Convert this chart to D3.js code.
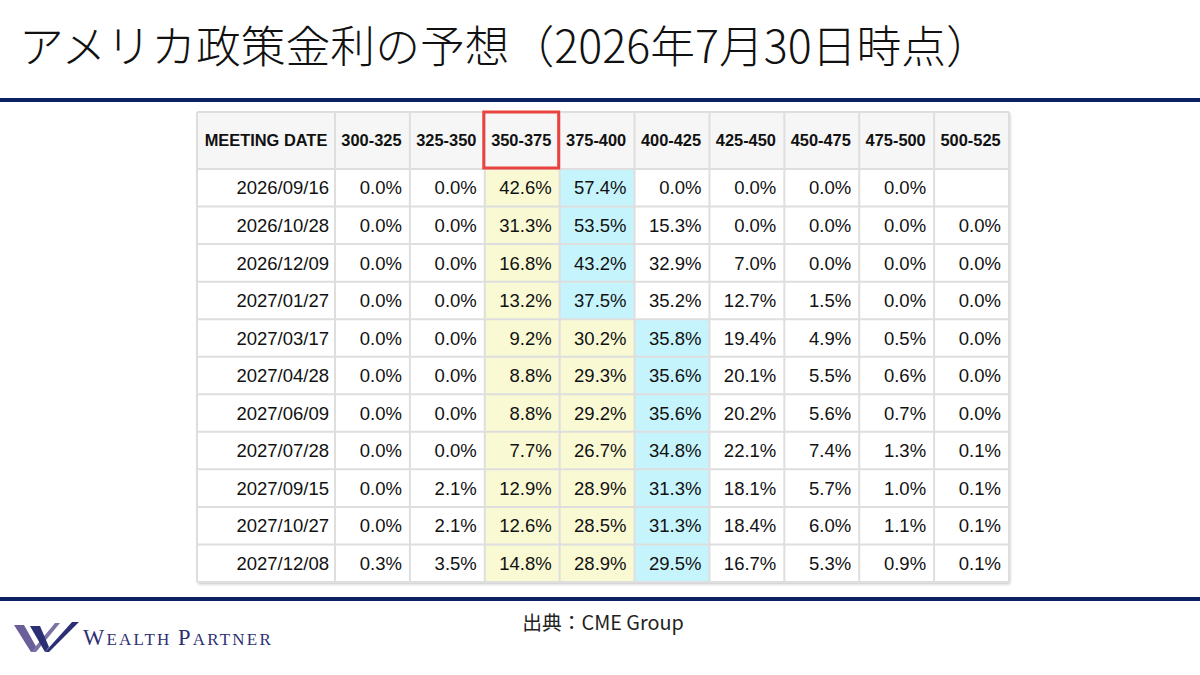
<!DOCTYPE html>
<html>
<head>
<meta charset="utf-8">
<script src="https://cdn.jsdelivr.net/npm/d3@7"></script>
<style>
	html, body { margin: 0; padding: 0; background: #fff; }
	svg { display: block; }
</style>
</head>
<body>
<svg id="chart" width="1200" height="675"></svg>
<script>
const title = "アメリカ政策金利の予想（2026年7月30日時点）";
const source = "出典：CME Group";
const firstHeader = "MEETING DATE";

const meetingDates = ["2026/09/16", "2026/10/28", "2026/12/09", "2027/01/27", "2027/03/17",
	"2027/04/28", "2027/06/09", "2027/07/28", "2027/09/15", "2027/10/27", "2027/12/08"];

const rateRanges = ["300-325", "325-350", "350-375", "375-400", "400-425",
	"425-450", "450-475", "475-500", "500-525"];

// probability (%) per target range, one value per meeting date
const p300_325 = [0.0, 0.0, 0.0, 0.0, 0.0, 0.0, 0.0, 0.0, 0.0, 0.0, 0.3];
const p325_350 = [0.0, 0.0, 0.0, 0.0, 0.0, 0.0, 0.0, 0.0, 2.1, 2.1, 3.5];
const p350_375 = [42.6, 31.3, 16.8, 13.2, 9.2, 8.8, 8.8, 7.7, 12.9, 12.6, 14.8];
const p375_400 = [57.4, 53.5, 43.2, 37.5, 30.2, 29.3, 29.2, 26.7, 28.9, 28.5, 28.9];
const p400_425 = [0.0, 15.3, 32.9, 35.2, 35.8, 35.6, 35.6, 34.8, 31.3, 31.3, 29.5];
const p425_450 = [0.0, 0.0, 7.0, 12.7, 19.4, 20.1, 20.2, 22.1, 18.1, 18.4, 16.7];
const p450_475 = [0.0, 0.0, 0.0, 1.5, 4.9, 5.5, 5.6, 7.4, 5.7, 6.0, 5.3];
const p475_500 = [0.0, 0.0, 0.0, 0.0, 0.5, 0.6, 0.7, 1.3, 1.0, 1.1, 0.9];
const p500_525 = [null, 0.0, 0.0, 0.0, 0.0, 0.0, 0.0, 0.1, 0.1, 0.1, 0.1];

const series = [p300_325, p325_350, p350_375, p375_400, p400_425,
	p425_450, p450_475, p475_500, p500_525];

// columns shaded yellow, the current range is boxed in red
const shadedRanges = ["350-375", "375-400"];
const boxedRange = "350-375";

let svg = d3.select("#chart"),
	WIDTH = 1200,
	TABLE = { left: 197, dateRight: 335, right: 1009, top: 112, headBottom: 169, bottom: 582 },
	NAVY = "#0b2161",
	GRID = "#dedede";

let xScale = d3.scaleBand()
	.domain(rateRanges)
	.range([TABLE.dateRight, TABLE.right]);

let yScale = d3.scaleBand()
	.domain(meetingDates)
	.range([TABLE.headBottom, TABLE.bottom]);

// title + rules
svg.append("text")
	.attr("x", 19)
	.attr("y", 63)
	.attr("font-family", "'Noto Sans CJK JP', sans-serif")
	.attr("font-weight", 300)
	.attr("font-size", 44.8)
	.attr("fill", "#111")
	.text(title);

svg.append("rect").attr("x", 0).attr("y", 98).attr("width", WIDTH).attr("height", 4).attr("fill", NAVY);
svg.append("rect").attr("x", 0).attr("y", 597).attr("width", WIDTH).attr("height", 4).attr("fill", NAVY);

// table shadow
let defs = svg.append("defs");
let shadow = defs.append("filter").attr("id", "shadow")
	.attr("x", "-5%").attr("y", "-5%").attr("width", "110%").attr("height", "110%");
shadow.append("feDropShadow")
	.attr("dx", 1).attr("dy", 2).attr("stdDeviation", 1.5)
	.attr("flood-color", "#000").attr("flood-opacity", 0.25);

let table = svg.append("g");

table.append("rect")
	.attr("x", TABLE.left)
	.attr("y", TABLE.top)
	.attr("width", TABLE.right - TABLE.left)
	.attr("height", TABLE.bottom - TABLE.top)
	.attr("fill", "#fff")
	.attr("filter", "url(#shadow)");

// header row
table.append("rect")
	.attr("x", TABLE.left)
	.attr("y", TABLE.top)
	.attr("width", TABLE.right - TABLE.left)
	.attr("height", TABLE.headBottom - TABLE.top)
	.attr("fill", "#f6f6f6");

let headY = (TABLE.top + TABLE.headBottom) / 2;

// which range is the most likely at each meeting
let maxIndex = meetingDates.map(function (d, r) {
	let best = 0;
	for (let c = 0; c < series.length; c++) {
		if (series[c][r] !== null && series[c][r] > series[best][r]) best = c;
	}
	return best;
});

let cells = [];
for (let r = 0; r < meetingDates.length; r++) {
	for (let c = 0; c < rateRanges.length; c++) {
		cells.push({ date: meetingDates[r], range: rateRanges[c], value: series[c][r], isMax: maxIndex[r] === c });
	}
}

table.selectAll(".cell")
	.data(cells)
	.enter().append("rect")
	.attr("class", "cell")
	.attr("x", function (d) { return xScale(d.range); })
	.attr("y", function (d) { return yScale(d.date); })
	.attr("width", xScale.bandwidth())
	.attr("height", yScale.bandwidth())
	.attr("fill", function (d) {
		if (d.isMax) return "#c6f4fc";
		if (shadedRanges.indexOf(d.range) !== -1) return "#f9f9d4";
		return "#fff";
	});

// grid lines
let grid = table.append("g")
	.attr("stroke", GRID)
	.attr("stroke-width", 2);

let vLines = [TABLE.left, TABLE.dateRight].concat(rateRanges.map(function (d) { return xScale(d) + xScale.bandwidth(); }));
grid.selectAll(".v")
	.data(vLines)
	.enter().append("line")
	.attr("x1", function (d) { return d; })
	.attr("x2", function (d) { return d; })
	.attr("y1", TABLE.top)
	.attr("y2", TABLE.bottom);

let hLines = [TABLE.top].concat(meetingDates.map(function (d) { return yScale(d); }), [TABLE.bottom]);
grid.selectAll(".h")
	.data(hLines)
	.enter().append("line")
	.attr("x1", TABLE.left)
	.attr("x2", TABLE.right)
	.attr("y1", function (d) { return d; })
	.attr("y2", function (d) { return d; });

// header labels
table.append("text")
	.attr("x", (TABLE.left + TABLE.dateRight) / 2)
	.attr("y", headY)
	.attr("dy", "0.36em")
	.attr("text-anchor", "middle")
	.attr("font-family", "'Liberation Sans', Arial, sans-serif")
	.attr("font-weight", "bold")
	.attr("font-size", 16.4)
	.attr("fill", "#111")
	.text(firstHeader);

table.selectAll(".head")
	.data(rateRanges)
	.enter().append("text")
	.attr("class", "head")
	.attr("x", function (d) { return xScale(d) + xScale.bandwidth() / 2 - 1; })
	.attr("y", headY)
	.attr("dy", "0.36em")
	.attr("text-anchor", "middle")
	.attr("font-family", "'Liberation Sans', Arial, sans-serif")
	.attr("font-weight", "bold")
	.attr("font-size", 16.4)
	.attr("fill", "#111")
	.text(function (d) { return d; });

// date labels
table.selectAll(".date")
	.data(meetingDates)
	.enter().append("text")
	.attr("class", "date")
	.attr("x", TABLE.dateRight - 6)
	.attr("y", function (d) { return yScale(d) + yScale.bandwidth() / 2; })
	.attr("dy", "0.36em")
	.attr("text-anchor", "end")
	.attr("font-family", "'Liberation Sans', Arial, sans-serif")
	.attr("font-size", 18.5)
	.attr("fill", "#111")
	.text(function (d) { return d; });

// values
table.selectAll(".val")
	.data(cells.filter(function (d) { return d.value !== null; }))
	.enter().append("text")
	.attr("class", "val")
	.attr("x", function (d) { return xScale(d.range) + xScale.bandwidth() - 8; })
	.attr("y", function (d) { return yScale(d.date) + yScale.bandwidth() / 2; })
	.attr("dy", "0.36em")
	.attr("text-anchor", "end")
	.attr("font-family", "'Liberation Sans', Arial, sans-serif")
	.attr("font-size", 18.5)
	.attr("fill", "#111")
	.text(function (d) { return d3.format(".1f")(d.value) + "%"; });

// red box on the current range
table.append("rect")
	.attr("x", xScale(boxedRange) - 1)
	.attr("y", TABLE.top)
	.attr("width", xScale.bandwidth())
	.attr("height", TABLE.headBottom - TABLE.top - 1)
	.attr("fill", "none")
	.attr("stroke", "#e8433f")
	.attr("stroke-width", 3);

// source
svg.append("text")
	.attr("x", (TABLE.left + TABLE.right) / 2)
	.attr("y", 630)
	.attr("text-anchor", "middle")
	.attr("font-family", "'Noto Sans CJK JP', sans-serif")
	.attr("font-size", 19.8)
	.attr("fill", "#222")
	.text(source);

// logo
let logo = svg.append("g");
logo.append("path")
	.attr("d", "M14,625 L24,625 L38,650 L31,652 Z")
	.attr("fill", "#6a5f98");
logo.append("path")
	.attr("d", "M31,652 L55,623 L60,623 L36,652 Z")
	.attr("fill", "#7c72a8");
logo.append("path")
	.attr("d", "M30,626 L40,626 L49,647 L45,652 Z")
	.attr("fill", "#2c2f74");
logo.append("path")
	.attr("d", "M45,652 L72,622 L79,622 L49,652 Z")
	.attr("fill", "#2c2f74");

let logoText = logo.append("text")
	.attr("x", 83)
	.attr("y", 645)
	.attr("font-family", "'Liberation Serif', 'DejaVu Serif', serif")
	.attr("letter-spacing", 2.2)
	.attr("fill", "#2d2f72");
[["W", 22.5], ["EALTH ", 17], ["P", 22.5], ["ARTNER", 17]].forEach(function (part) {
	logoText.append("tspan").attr("font-size", part[1]).text(part[0]);
});
</script>
</body>
</html>
